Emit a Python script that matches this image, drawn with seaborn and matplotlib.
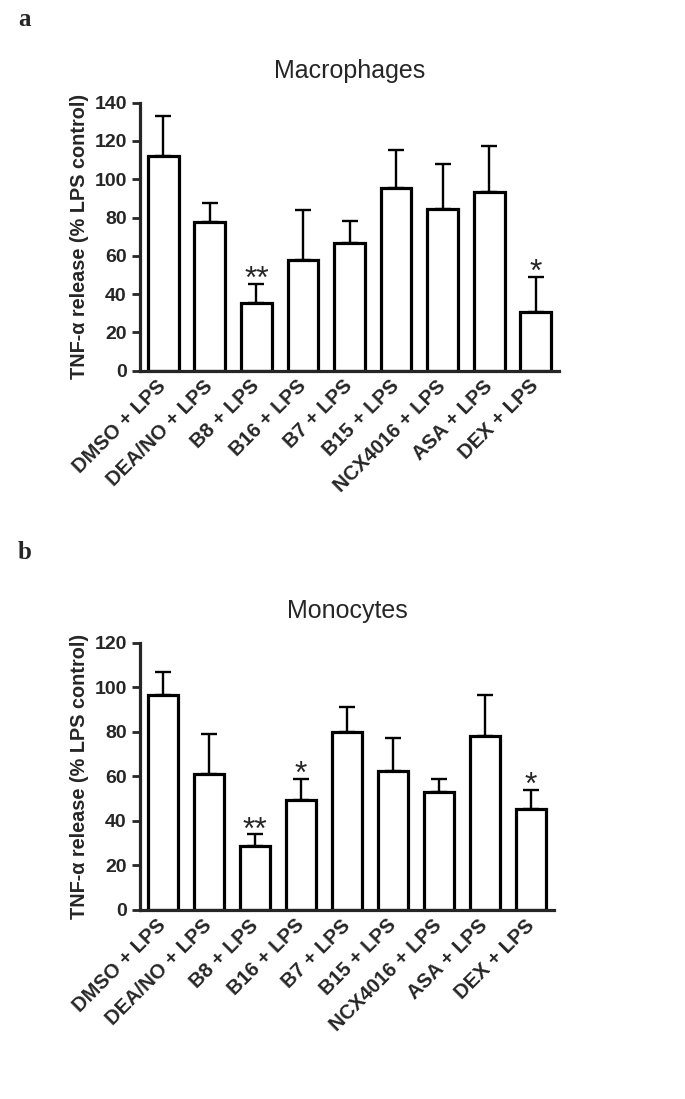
#!/usr/bin/env python
# coding: utf-8

"""
TNF-alpha release after LPS stimulation, macrophages (a) and monocytes (b)
"""

import pandas as pd
import seaborn as sns
import matplotlib.pyplot as plt

# traitements (axe x, identique pour les deux panneaux)
treatments = ["DMSO + LPS", "DEA/NO + LPS", "B8 + LPS", "B16 + LPS", "B7 + LPS",
              "B15 + LPS", "NCX4016 + LPS", "ASA + LPS", "DEX + LPS"]

# panneau a : macrophages (moyenne, SEM)
macro_mean = [112, 77.5, 35.5, 58, 66.5, 95.5, 84.5, 93.5, 30.5]
macro_sem = [21, 10, 10, 26, 11.5, 20, 23.5, 24, 18.5]
macro_stars = ["", "", "**", "", "", "", "", "", "*"]

# panneau b : monocytes (moyenne, SEM)
mono_mean = [96.5, 61, 28.5, 49.5, 80, 62.5, 53, 78, 45.5]
mono_sem = [10.5, 18, 5.5, 9.5, 11, 14.5, 6, 18.5, 8.5]
mono_stars = ["", "", "**", "*", "", "", "", "", "*"]

sns.set_style("ticks")
plt.rcParams["font.family"] = ["Liberation Sans", "DejaVu Sans"]


def draw_panel(ax, means, sems, stars, title, ymax):
    df = pd.DataFrame({"treatment": treatments, "mean": means})
    sns.barplot(data=df, x="treatment", y="mean", color="white", saturation=1,
                edgecolor="black", linewidth=2.3, width=0.66, errorbar=None, ax=ax)

    # barres d'erreur seulement vers le haut
    pos = list(range(len(treatments)))
    ax.errorbar(pos, means, yerr=[[0] * len(means), sems], fmt="none",
                ecolor="black", elinewidth=1.7, capsize=6, capthick=1.7, zorder=3)

    # étoiles de significativité
    for i, (m, s, st) in enumerate(zip(means, sems, stars)):
        if st:
            ax.annotate(st, (i, m + s), xytext=(0, -3), textcoords="offset points",
                        ha="center", va="baseline", fontsize=23)

    ax.set_xlim(-0.5, len(treatments) - 0.5)
    ax.set_ylim(0, ymax)
    ax.set_yticks(range(0, ymax + 1, 20))
    ax.set_xlabel("")
    ax.set_ylabel("TNF-α release (% LPS control)", fontsize=14.3, fontweight="bold")
    ax.set_title(title, fontsize=18, pad=18)

    ax.tick_params(axis="y", length=6, width=2, labelsize=14)
    ax.tick_params(axis="x", length=0, labelsize=14.5, pad=9)
    for lab in ax.get_yticklabels():
        lab.set_fontweight("bold")
    ax.set_xticks(pos)
    ax.set_xticklabels(treatments, rotation=45, ha="right", va="center",
                       rotation_mode="anchor", fontweight="bold")

    sns.despine(ax=ax)
    for sp in ("left", "bottom"):
        ax.spines[sp].set_linewidth(2.3)


fig = plt.figure(figsize=(6.85, 10.99), dpi=100)
ax_a = fig.add_axes([0.2044, 0.6627, 0.6117, 0.2439])
ax_b = fig.add_axes([0.2044, 0.1720, 0.6044, 0.2432])

draw_panel(ax_a, macro_mean, macro_sem, macro_stars, "Macrophages", 140)
draw_panel(ax_b, mono_mean, mono_sem, mono_stars, "Monocytes", 120)

# lettres des panneaux
fig.text(0.026, 0.982, "a", fontsize=18, fontweight="bold",
         family=["Liberation Serif"], va="center")
fig.text(0.026, 0.497, "b", fontsize=18, fontweight="bold",
         family=["Liberation Serif"], va="center")

plt.savefig("out.png", dpi=100)
